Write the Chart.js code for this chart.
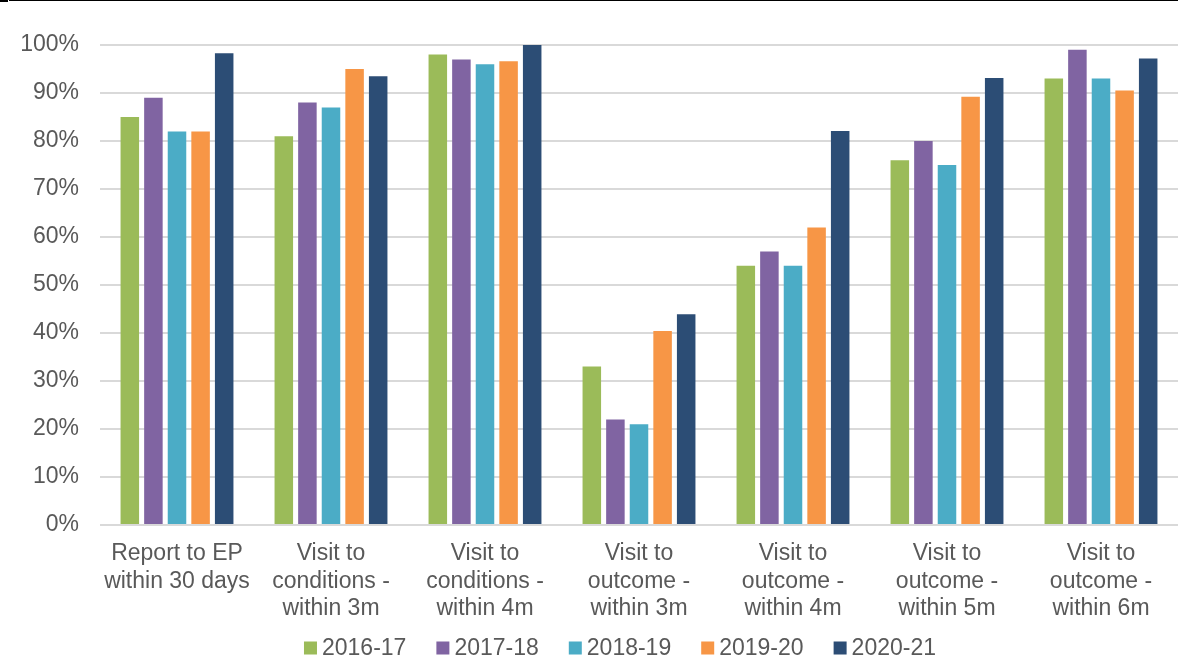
<!DOCTYPE html>
<html>
<head>
<meta charset="utf-8">
<script src="https://cdn.jsdelivr.net/npm/chart.js@4/dist/chart.umd.min.js"></script>
<style>
  html, body { margin: 0; padding: 0; background: #ffffff; }
  #wrap { width: 1178px; height: 664px; position: relative; }
</style>
</head>
<body>
<div id="wrap"><canvas id="chart" width="1178" height="664"></canvas></div>
<script>
// Categories (multi-line axis labels)
const categories = [
  ["Report to EP", "within 30 days"],
  ["Visit to", "conditions -", "within 3m"],
  ["Visit to", "conditions -", "within 4m"],
  ["Visit to", "outcome -", "within 3m"],
  ["Visit to", "outcome -", "within 4m"],
  ["Visit to", "outcome -", "within 5m"],
  ["Visit to", "outcome -", "within 6m"]
];

// Series labels
const seriesNames = ["2016-17", "2017-18", "2018-19", "2019-20", "2020-21"];

// Percentages per year
const values2016 = [85, 81, 98, 33, 54, 76, 93];
const values2017 = [89, 88, 97, 22, 57, 80, 99];
const values2018 = [82, 87, 96, 21, 54, 75, 93];
const values2019 = [82, 95, 96.6, 40.4, 62, 89.2, 90.5];
const values2020 = [98.3, 93.5, 100, 43.9, 82.1, 93.1, 97.2];

// Y axis ticks
const yTicks = [0, 10, 20, 30, 40, 50, 60, 70, 80, 90, 100];

const seriesValues = [values2016, values2017, values2018, values2019, values2020];
const seriesColors = ["#9BBB59", "#8064A2", "#4BACC6", "#F79646", "#2C4D75"];

const FONT = "'Liberation Sans', Arial, sans-serif";
const TEXT = "#595959";

// Thin rule across the top edge of the page
const topRule = {
  id: "topRule",
  afterDraw(chart) {
    const ctx = chart.ctx;
    ctx.save();
    ctx.fillStyle = "#000000";
    ctx.fillRect(0, 0, 8, 2);
    ctx.fillRect(9, 0, chart.width - 9, 1);
    ctx.restore();
  }
};

// Legend row: small squares followed by the year labels
const bottomLegend = {
  id: "bottomLegend",
  afterDraw(chart) {
    const ctx = chart.ctx;
    const box = 13, gapText = 5, gapItem = 30, y = 648;
    ctx.save();
    ctx.font = "23px " + FONT;
    ctx.textBaseline = "middle";
    ctx.textAlign = "left";
    const items = chart.data.datasets.map(ds => ({
      label: ds.label, color: ds.backgroundColor, w: ctx.measureText(ds.label).width
    }));
    const total = items.reduce((s, it) => s + box + gapText + it.w, 0) + gapItem * (items.length - 1);
    let x = 620 - total / 2;
    items.forEach(it => {
      ctx.fillStyle = it.color;
      ctx.fillRect(x, y - box / 2, box, box);
      ctx.fillStyle = TEXT;
      ctx.fillText(it.label, x + box + gapText, y + 1);
      x += box + gapText + it.w + gapItem;
    });
    ctx.restore();
  }
};

new Chart(document.getElementById("chart"), {
  type: "bar",
  data: {
    labels: categories,
    datasets: seriesNames.map((name, i) => ({
      label: name,
      data: seriesValues[i],
      backgroundColor: seriesColors[i],
      borderWidth: 0,
      categoryPercentage: 0.766,
      barPercentage: 0.785
    }))
  },
  options: {
    responsive: false,
    animation: false,
    devicePixelRatio: 1,
    layout: { padding: { top: 45, right: 0, bottom: 0, left: 0 } },
    plugins: {
      legend: { display: false },
      tooltip: { enabled: false }
    },
    scales: {
      x: {
        grid: { display: false, drawTicks: false },
        border: { display: false },
        ticks: {
          color: TEXT,
          font: { family: FONT, size: 23, lineHeight: 1.2 },
          padding: 15,
          maxRotation: 0,
          autoSkip: false
        },
        afterFit(scale) { scale.height = 139; }
      },
      y: {
        min: 0,
        max: 100,
        afterBuildTicks(scale) { scale.ticks = yTicks.map(v => ({ value: v })); },
        grid: { color: "#d9d9d9", lineWidth: 2, drawTicks: false },
        border: { display: false },
        ticks: {
          color: TEXT,
          font: { family: FONT, size: 23 },
          padding: 21,
          callback: v => v + "%"
        },
        afterFit(scale) { scale.width = 100; }
      }
    }
  },
  plugins: [topRule, bottomLegend]
});
</script>
</body>
</html>
